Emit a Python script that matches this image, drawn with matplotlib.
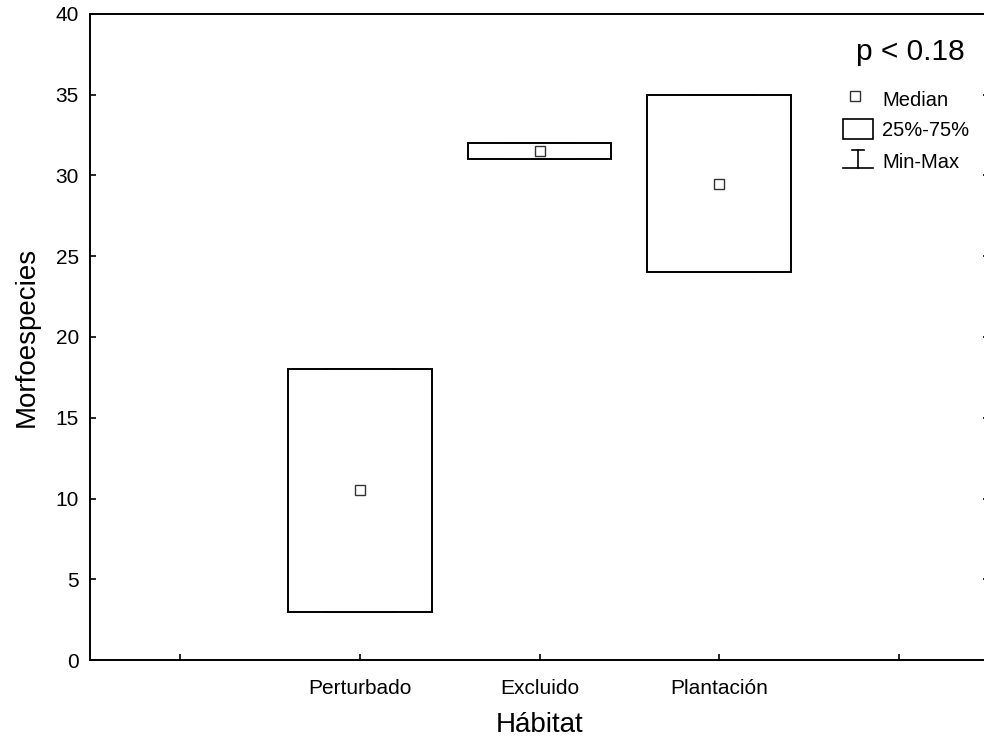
import matplotlib
matplotlib.use("Agg")
import matplotlib.pyplot as plt
from matplotlib.patches import Rectangle
from matplotlib.lines import Line2D

plt.rcParams['font.family'] = ['Liberation Sans', 'DejaVu Sans']

# Morfoespecies por hábitat: mediana, cuartiles y extremos
categories = ["Perturbado", "Excluido", "Plantación"]
medians = [10.5, 31.5, 29.5]
q25 = [3, 31, 24]
q75 = [18, 32, 35]
mins = [3, 31, 24]
maxs = [18, 32, 35]
y_ticks = [0, 5, 10, 15, 20, 25, 30, 35, 40]
p_label = "p < 0.18"

W, H = 984, 746
fig = plt.figure(figsize=(W / 100, H / 100), dpi=100)
ax = fig.add_axes([90 / W, 1 - 660 / H, 899 / W, 646 / H])

lw = 1.4
box_w = 0.8
cap_w = 0.4
for i, cat in enumerate(categories):
    x = i + 1
    # min-max whisker
    ax.plot([x, x], [mins[i], q25[i]], color="black", lw=lw)
    ax.plot([x, x], [q75[i], maxs[i]], color="black", lw=lw)
    ax.plot([x - cap_w / 2, x + cap_w / 2], [mins[i], mins[i]], color="#444444", lw=lw)
    ax.plot([x - cap_w / 2, x + cap_w / 2], [maxs[i], maxs[i]], color="#444444", lw=lw)
    # 25%-75% box
    ax.add_patch(Rectangle((x - box_w / 2, q25[i]), box_w, q75[i] - q25[i],
                           facecolor="white", edgecolor="black", lw=lw, zorder=3))
    # median
    ax.plot([x], [medians[i]], marker="s", markersize=7, markerfacecolor="white",
            markeredgecolor="#333333", markeredgewidth=1.0, zorder=4)

ax.set_xlim(-0.5, 4.5)
ax.set_ylim(0, 40)
ax.set_xticks([0, 1, 2, 3, 4])
ax.set_xticklabels([""] + categories + [""])
ax.set_yticks(y_ticks)
ax.tick_params(axis="both", direction="in", length=4, width=1.2, labelsize=15,
               right=True, top=False)
ax.tick_params(axis="x", labelsize=15, pad=14)
ax.tick_params(axis="y", pad=8)
for s in ax.spines.values():
    s.set_linewidth(lw)

ax.set_xlabel("Hábitat", fontsize=20, labelpad=10)
ax.set_ylabel("Morfoespecies", fontsize=20, labelpad=11)

# key drawn in pixel coordinates
def fx(px):
    return px / W

def fy(py):
    return 1 - py / H

fig.text(fx(910), fy(52), p_label, fontsize=21.5, ha="center", va="center")
fig.add_artist(Line2D([fx(855)], [fy(96)], marker="s", markersize=7,
                      markerfacecolor="white", markeredgecolor="#333333",
                      markeredgewidth=1.0, transform=fig.transFigure))
fig.text(fx(882), fy(101), "Median", fontsize=14.5, ha="left", va="center")
fig.add_artist(Rectangle((fx(843), fy(139)), fx(30), 20 / H, facecolor="white",
                         edgecolor="black", lw=1.2, transform=fig.transFigure))
fig.text(fx(882), fy(131), "25%-75%", fontsize=14.5, ha="left", va="center")
fig.add_artist(Line2D([fx(852), fx(864)], [fy(150), fy(150)], color="black", lw=1.2,
                      transform=fig.transFigure))
fig.add_artist(Line2D([fx(843), fx(873)], [fy(168), fy(168)], color="black", lw=1.2,
                      transform=fig.transFigure))
fig.add_artist(Line2D([fx(858), fx(858)], [fy(150), fy(168)], color="black", lw=1.2,
                      transform=fig.transFigure))
fig.text(fx(882), fy(163), "Min-Max", fontsize=14.5, ha="left", va="center")

fig.savefig("out.png", dpi=100)
